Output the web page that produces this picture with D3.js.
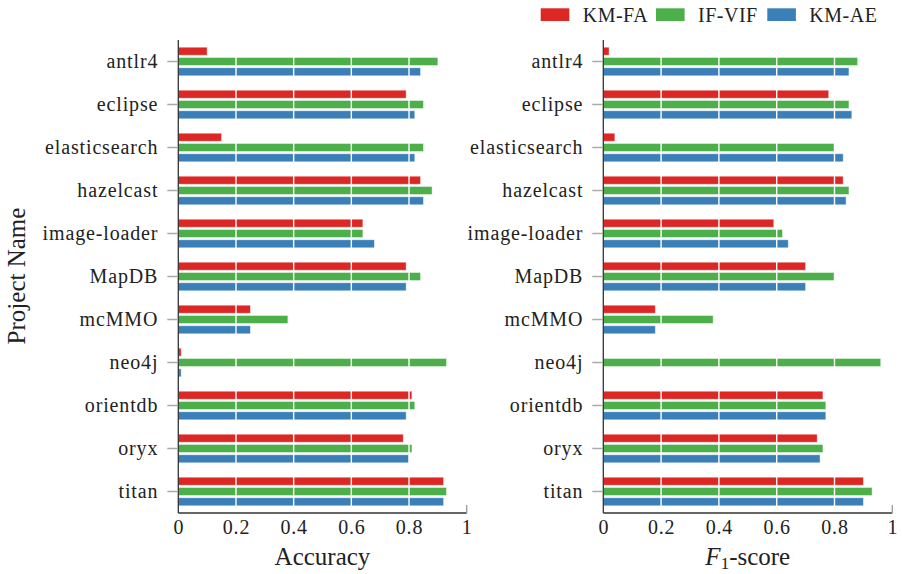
<!DOCTYPE html>
<html>
<head>
<meta charset="utf-8">
<script src="https://cdn.jsdelivr.net/npm/d3@7"></script>
<style>
    body { margin: 0; background: #fff; }
    svg { display: block; }
</style>
</head>
<body>
<div id="chart"></div>
<script>
var projects = ['antlr4', 'eclipse', 'elasticsearch', 'hazelcast', 'image-loader', 'MapDB',
                'mcMMO', 'neo4j', 'orientdb', 'oryx', 'titan']
var seriesNames = ['KM-FA', 'IF-VIF', 'KM-AE']
var seriesColors = ['#dd2725', '#4daf4a', '#3a7fb8']

// Accuracy per project
var accKmFa  = [0.10, 0.79, 0.15, 0.84, 0.64, 0.79, 0.25, 0.01, 0.81, 0.78, 0.92]
var accIfVif = [0.90, 0.85, 0.85, 0.88, 0.64, 0.84, 0.38, 0.93, 0.82, 0.81, 0.93]
var accKmAe  = [0.84, 0.82, 0.82, 0.85, 0.68, 0.79, 0.25, 0.01, 0.79, 0.80, 0.92]

// F1-score per project
var f1KmFa  = [0.02, 0.78, 0.04, 0.83, 0.59, 0.70, 0.18, 0.00, 0.76, 0.74, 0.90]
var f1IfVif = [0.88, 0.85, 0.80, 0.85, 0.62, 0.80, 0.38, 0.96, 0.77, 0.76, 0.93]
var f1KmAe  = [0.85, 0.86, 0.83, 0.84, 0.64, 0.70, 0.18, 0.00, 0.77, 0.75, 0.90]

var xTicks = [0, 0.2, 0.4, 0.6, 0.8, 1]
var gridTicks = [0.2, 0.4, 0.6, 0.8]

var width = 903
var height = 574
var plotTop = 40, plotBottom = 513
var serif = "'Liberation Serif', 'DejaVu Serif'"

var svg = d3.select('#chart').append('svg')
    .attr('width', width)
    .attr('height', height)
    .attr('font-family', serif)

var y = d3.scaleBand()
    .domain(projects)
    .range([plotTop, plotBottom])
    .padding(0)

var ySub = d3.scaleBand()
    .domain(seriesNames)
    .range([-14.3, 14.3])
    .paddingInner(0.22)

function drawPanel(x0, x1, series, title) {
    var x = d3.scaleLinear().domain([0, 1]).range([x0, x1])
    var g = svg.append('g')

    // bars
    series.forEach(function(values, si) {
        g.append('g')
            .selectAll('rect')
            .data(values)
            .join('rect')
            .attr('x', x(0))
            .attr('y', function(d, i) { return y(projects[i]) + y.bandwidth() / 2 + ySub(seriesNames[si]) })
            .attr('width', function(d) { return x(d) - x(0) })
            .attr('height', ySub.bandwidth())
            .attr('fill', seriesColors[si])
            .attr('stroke', '#fff')
            .attr('stroke-opacity', 0.55)
            .attr('stroke-width', 0.8)
    })

    // white grid lines over the bars
    g.append('g')
        .selectAll('line')
        .data(gridTicks)
        .join('line')
        .attr('x1', function(d) { return x(d) })
        .attr('x2', function(d) { return x(d) })
        .attr('y1', plotTop)
        .attr('y2', plotBottom)
        .attr('stroke', '#fff')
        .attr('stroke-width', 1.4)

    // y ticks + labels
    var yl = g.append('g')
    yl.selectAll('line')
        .data(projects)
        .join('line')
        .attr('x1', x0 - 11)
        .attr('x2', x0 - 1)
        .attr('y1', function(d) { return y(d) + y.bandwidth() / 2 })
        .attr('y2', function(d) { return y(d) + y.bandwidth() / 2 })
        .attr('stroke', '#aaa')
        .attr('stroke-width', 1.5)
    yl.selectAll('text')
        .data(projects)
        .join('text')
        .attr('x', x0 - 20)
        .attr('y', function(d) { return y(d) + y.bandwidth() / 2 + 6 })
        .attr('text-anchor', 'end')
        .attr('font-size', 20)
        .attr('letter-spacing', 0.85)
        .attr('fill', '#222')
        .text(function(d) { return d })

    // x axis labels
    var xa = g.append('g')
        .attr('transform', 'translate(0,' + plotBottom + ')')
        .call(d3.axisBottom(x).tickValues(xTicks).tickSize(0).tickPadding(0)
            .tickFormat(function(d) { return d3.format('')(+d.toFixed(1)) }))
        .attr('font-family', serif)
        .attr('font-size', null)
    xa.select('.domain').remove()
    xa.selectAll('text')
        .attr('y', 21)
        .attr('dy', null)
        .attr('font-size', 20)
        .attr('letter-spacing', 0.8)
        .attr('fill', '#222')

    // spines
    g.append('line')
        .attr('x1', x0).attr('x2', x0)
        .attr('y1', plotTop).attr('y2', plotBottom)
        .attr('stroke', '#333').attr('stroke-width', 1.3)
    g.append('line')
        .attr('x1', x0).attr('x2', x1)
        .attr('y1', plotBottom).attr('y2', plotBottom)
        .attr('stroke', '#333').attr('stroke-width', 1.3)
    g.append('line')
        .attr('x1', x1).attr('x2', x1)
        .attr('y1', plotBottom - 8).attr('y2', plotBottom)
        .attr('stroke', '#999').attr('stroke-width', 1.3)

    title(g, (x0 + x1) / 2)
}

drawPanel(178.3, 466.7, [accKmFa, accIfVif, accKmAe], function(g, cx) {
    g.append('text')
        .attr('x', cx)
        .attr('y', 565)
        .attr('text-anchor', 'middle')
        .attr('font-size', 25)
        .attr('fill', '#222')
        .text('Accuracy')
})

drawPanel(603.3, 892.3, [f1KmFa, f1IfVif, f1KmAe], function(g, cx) {
    var t = g.append('text')
        .attr('x', cx)
        .attr('y', 565)
        .attr('text-anchor', 'middle')
        .attr('font-size', 25)
        .attr('fill', '#222')
    t.append('tspan').attr('font-style', 'italic').text('F')
    t.append('tspan').attr('font-size', 17).attr('dy', 4).text('1')
    t.append('tspan').attr('dy', -4).text('-score')
})

// y axis title
svg.append('text')
    .attr('transform', 'translate(25,276) rotate(-90)')
    .attr('text-anchor', 'middle')
    .attr('font-size', 25)
    .attr('fill', '#222')
    .text('Project Name')

// legend
var legendX = [540.7, 656, 767.3]
var legend = svg.append('g')
seriesNames.forEach(function(name, i) {
    legend.append('rect')
        .attr('x', legendX[i])
        .attr('y', 8.3)
        .attr('width', 28.6)
        .attr('height', 12.7)
        .attr('fill', seriesColors[i])
    legend.append('text')
        .attr('x', legendX[i] + 42)
        .attr('y', 21.7)
        .attr('font-size', 20)
        .attr('letter-spacing', 0.5)
        .attr('fill', '#222')
        .text(name)
})
</script>
</body>
</html>
